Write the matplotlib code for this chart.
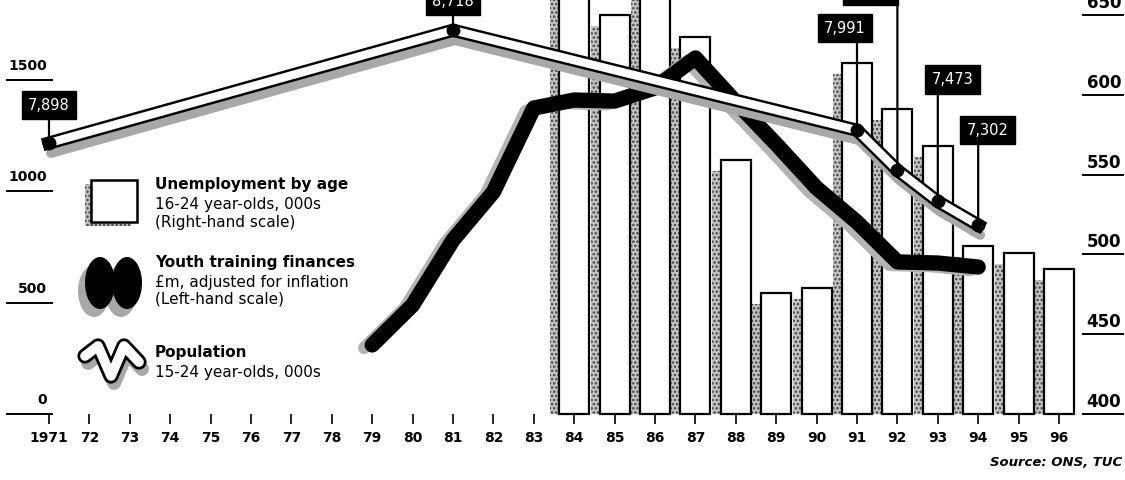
import matplotlib
matplotlib.use('Agg')
import matplotlib.pyplot as plt
import matplotlib.transforms as mtransforms
from matplotlib.patches import Rectangle, Ellipse

# ---------------- data ----------------
bar_years = [1984, 1985, 1986, 1987, 1988, 1989, 1990, 1991, 1992, 1993, 1994, 1995, 1996]
unemployment = [690, 650, 680, 636, 559, 476, 479, 620, 591, 568, 505, 501, 491]   # 000s, right scale

youth_years = list(range(1979, 1995))
youth_finance = [310, 489, 781, 997, 1374, 1410, 1405, 1464, 1599, 1401, 1212, 1015, 862, 683, 678, 660]  # GBP m, left scale

pop_years = [1971, 1981, 1991, 1992, 1993, 1994]
population = [7898, 8718, 7991, 7700, 7473, 7302]
pop_labels = ['7,898', '8,718', '7,991', '7,700', '7,473', '7,302']

tick_years = list(range(1971, 1997))
tick_labels = ['1971'] + ['%02d' % (y % 100) for y in range(1972, 1997)]
left_ticks = [0, 500, 1000, 1500]
right_ticks = [400, 450, 500, 550, 600, 650]

# ---------------- layout ----------------
W, H = 1125, 480
fig = plt.figure(figsize=(W / 100, H / 100), dpi=100)
fig.patch.set_facecolor('white')
plt.rcParams['font.family'] = ['DejaVu Sans']
plt.rcParams['hatch.linewidth'] = 1.2

PX_YEAR = 40.4
X0 = 49
AXB = 414  # pixel row of axes bottom
xlim = (1971 - X0 / PX_YEAR, 1971 + (W - X0) / PX_YEAR)
rect = [0, (H - AXB) / H, 1, AXB / H]

axB = fig.add_axes(rect)           # bars, right scale
axL = axB.twinx()                   # youth training, left scale
axP = axB.twinx()                   # population
axB.set_xlim(xlim)
R_PX = 1.596
L_PX = 0.2227
P_PX = 7.27
axB.set_ylim(400, 400 + AXB / R_PX)
axL.set_ylim(0, AXB / L_PX)
axP.set_ylim(7302 - (AXB - 225) * P_PX, 7302 + 225 * P_PX)
for a in (axB, axL, axP):
    for s in a.spines.values():
        s.set_visible(False)
    a.set_yticks([])
    a.patch.set_visible(False)

axB.set_xticks(tick_years, tick_labels)
axB.tick_params(axis='x', direction='out', length=7, width=1.2, pad=5,
                labelsize=10, colors='black')
for lbl in axB.get_xticklabels():
    lbl.set_fontweight('bold')

# ---------------- bars ----------------
bw = 0.74
dx = 9 / PX_YEAR
dy = 11 / R_PX
axB.bar([y - dx for y in bar_years], [v - dy - 400 for v in unemployment], bottom=400,
        width=bw, facecolor='#c4c4c4', edgecolor='#444444', hatch='....', linewidth=0,
        zorder=1, clip_on=False)
axB.bar(bar_years, [v - 400 for v in unemployment], bottom=400, width=bw,
        facecolor='white', edgecolor='black', linewidth=1.6, zorder=2, clip_on=False)

# ---------------- youth training line ----------------
sh = mtransforms.offset_copy(axL.transData, fig=fig, x=-8, y=-3, units='dots')
axL.plot(youth_years, youth_finance, color='#b4b4b4', lw=9, transform=sh,
         solid_capstyle='round', solid_joinstyle='round', zorder=3)
axL.plot(youth_years, youth_finance, color='black', lw=11,
         solid_capstyle='round', solid_joinstyle='round', zorder=4)

# ---------------- population ribbon ----------------
psh = mtransforms.offset_copy(axP.transData, fig=fig, x=2, y=-10, units='dots')
axP.plot(pop_years, population, color='#a8a8a8', lw=7, transform=psh,
         solid_joinstyle='round', solid_capstyle='round', zorder=2)
axP.plot(pop_years, population, color='black', lw=9.5, solid_joinstyle='miter', zorder=3)
axP.plot(pop_years, population, color='white', lw=6, solid_joinstyle='miter', zorder=3.1)

offsets_px = [(0, 38), (0, 29), (-12, 102), (-27, 179), (15, 122), (9, 95)]
for yr, v, lab, (ox, oy) in zip(pop_years, population, pop_labels, offsets_px):
    axP.annotate('', xy=(yr, v), xytext=(0, oy * 0.72), textcoords='offset points',
                 arrowprops=dict(arrowstyle='-', color='black', lw=1.6,
                                 shrinkA=0, shrinkB=0),
                 annotation_clip=False, zorder=4)
    axP.annotate(lab, xy=(yr, v), xytext=(ox * 0.72, oy * 0.72), textcoords='offset points',
                 ha='center', va='center', color='white', fontsize=10.5,
                 bbox=dict(boxstyle='square,pad=0.45', fc='black', ec='black'),
                 annotation_clip=False, zorder=4.5)
axP.plot(pop_years, population, 'o', color='black', ms=9, zorder=5)

# ---------------- axis labels (left / right) ----------------
trL = mtransforms.blended_transform_factory(fig.transFigure, axL.transData)
trLt = mtransforms.offset_copy(trL, fig=fig, y=10, units='dots')
for v in left_ticks:
    axL.plot([7 / W, 52 / W], [v, v], transform=trL, color='black', lw=1.4, clip_on=False)
    axL.text(47 / W, v, str(v), transform=trLt, ha='right', va='baseline',
             fontsize=10, fontweight='bold')

trR = mtransforms.blended_transform_factory(fig.transFigure, axB.transData)
trRt = mtransforms.offset_copy(trR, fig=fig, y=7, units='dots')
for v in right_ticks:
    axB.plot([1083 / W, 1123 / W], [v, v], transform=trR, color='black', lw=1.4, clip_on=False)
    axB.text(1121 / W, v, str(v), transform=trRt, ha='right', va='baseline',
             fontsize=12, fontweight='bold')

# ---------------- legend (overlay in pixel coords) ----------------
axO = fig.add_axes([0, 0, 1, 1], zorder=10)
axO.set_xlim(0, W)
axO.set_ylim(H, 0)
axO.axis('off')
axO.patch.set_visible(False)

axO.add_patch(Rectangle((85, 184), 46, 42, facecolor='#c4c4c4', edgecolor='#444444',
                        hatch='....', lw=0))
axO.add_patch(Rectangle((91, 180), 46, 42, facecolor='white', edgecolor='black', lw=1.8))

for (cx, cy) in [(97, 287), (124, 287)]:
    axO.add_patch(Ellipse((cx - 3, cy + 4), 32, 52, facecolor='#a8a8a8', edgecolor='none'))
for (cx, cy) in [(100, 283), (127, 283)]:
    axO.add_patch(Ellipse((cx, cy), 30, 52, facecolor='black', edgecolor='none'))

wx = [85, 98, 111, 124, 139]
wy = [356, 346, 376, 346, 362]
axO.plot([x + 3 for x in wx], [y + 7 for y in wy], color='#a8a8a8', lw=10,
         solid_capstyle='round', solid_joinstyle='round')
axO.plot(wx, wy, color='black', lw=11, solid_capstyle='round', solid_joinstyle='round')
axO.plot(wx, wy, color='white', lw=7, solid_capstyle='round', solid_joinstyle='round')

legend_lines = [
    (155, 184, 'Unemployment by age', 'bold'),
    (155, 204, '16-24 year-olds, 000s', 'normal'),
    (155, 222, '(Right-hand scale)', 'normal'),
    (155, 263, 'Youth training finances', 'bold'),
    (155, 282, '£m, adjusted for inflation', 'normal'),
    (155, 299, '(Left-hand scale)', 'normal'),
    (155, 353, 'Population', 'bold'),
    (155, 373, '15-24 year-olds, 000s', 'normal'),
]
for x, y, t, w in legend_lines:
    axO.text(x, y, t, ha='left', va='center', fontsize=11, fontweight=w)

axO.text(1122, 462, 'Source: ONS, TUC', ha='right', va='center', fontsize=9.5,
         fontweight='bold', style='italic')

fig.savefig('out.png', dpi=100, facecolor='white')
